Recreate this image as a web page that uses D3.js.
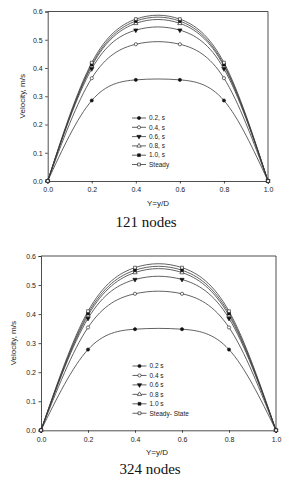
<!DOCTYPE html>
<html>
<head>
<meta charset="utf-8">
<script src="https://cdn.jsdelivr.net/npm/d3@7"></script>
<style>
  body { margin: 0; background: #fff; }
  svg text { font-family: "Liberation Sans", Arial, sans-serif; fill: #222; }
</style>
</head>
<body>
<div id="chart"></div>
<script>
// positions along the pipe (Y = y/D)
let yOverD = [0, 0.2, 0.4, 0.6, 0.8, 1.0];
let xTicks = [0, 0.2, 0.4, 0.6, 0.8, 1.0];
let yTicks = [0, 0.1, 0.2, 0.3, 0.4, 0.5, 0.6];

// 121 nodes
let labels121 = ["0.2, s", "0.4, s", "0.6, s", "0.8, s", "1.0, s", "Steady"];
let n121_t02 = [0, 0.285, 0.358, 0.358, 0.285, 0];
let n121_t04 = [0, 0.364, 0.484, 0.484, 0.364, 0];
let n121_t06 = [0, 0.397, 0.534, 0.534, 0.397, 0];
let n121_t08 = [0, 0.407, 0.558, 0.558, 0.407, 0];
let n121_t10 = [0, 0.412, 0.566, 0.566, 0.412, 0];
let n121_steady = [0, 0.419, 0.573, 0.573, 0.419, 0];

// 324 nodes
let labels324 = ["0.2 s", "0.4 s", "0.6 s", "0.8 s", "1.0 s", "Steady- State"];
let n324_t02 = [0, 0.278, 0.348, 0.348, 0.278, 0];
let n324_t04 = [0, 0.354, 0.470, 0.470, 0.354, 0];
let n324_t06 = [0, 0.385, 0.519, 0.519, 0.385, 0];
let n324_t08 = [0, 0.395, 0.543, 0.543, 0.395, 0];
let n324_t10 = [0, 0.402, 0.551, 0.551, 0.402, 0];
let n324_steady = [0, 0.410, 0.560, 0.560, 0.410, 0];

// marker per series: symbol type + filled or not
let markers = [
    {type: d3.symbolCircle, fill: true},
    {type: d3.symbolCircle, fill: false},
    {type: d3.symbolTriangle, fill: true, rot: 180},
    {type: d3.symbolTriangle, fill: false},
    {type: d3.symbolSquare, fill: true},
    {type: d3.symbolSquare, fill: false}
];

let svg = d3.select("#chart")
    .append("svg")
    .attr("width", 289)
    .attr("height", 480);

function drawPanel(cfg) {
    let g = svg.append("g");

    let x = d3.scaleLinear()
        .domain([0, 1])
        .range([cfg.left, cfg.right]);

    let y = d3.scaleLinear()
        .domain([0, 0.6])
        .range([cfg.bottom, cfg.top]);

    // frame (top + right)
    g.append("path")
        .attr("d", `M${cfg.left},${cfg.top}H${cfg.right}V${cfg.bottom}`)
        .attr("fill", "none")
        .attr("stroke", "#222")
        .attr("stroke-width", 0.8);

    // x axis
    let xAxis = g.append("g")
        .attr("transform", `translate(0,${cfg.bottom})`)
        .call(d3.axisBottom(x).tickValues(xTicks).tickFormat(d3.format(".1f")).tickSize(2.5).tickPadding(4));

    // y axis
    let yAxis = g.append("g")
        .attr("transform", `translate(${cfg.left},0)`)
        .call(d3.axisLeft(y).tickValues(yTicks).tickFormat(d3.format(".1f")).tickSize(2.5).tickPadding(2.5));

    [xAxis, yAxis].forEach(a => {
        a.select(".domain").attr("stroke", "#222").attr("stroke-width", 0.8);
        a.selectAll(".tick line").attr("stroke", "#222").attr("stroke-width", 0.8);
        a.selectAll(".tick text")
            .attr("font-size", "7px")
            .attr("font-family", "Liberation Sans, Arial, sans-serif")
            .attr("fill", "#333");
    });

    // axis titles
    g.append("text")
        .attr("transform", `translate(${cfg.yTitleX},${(cfg.top + cfg.bottom) / 2}) rotate(-90)`)
        .attr("text-anchor", "middle")
        .attr("font-size", "8px")
        .text("Velocity, m/s");

    g.append("text")
        .attr("x", cfg.xTitleX)
        .attr("y", cfg.xTitleY)
        .attr("text-anchor", "middle")
        .attr("font-size", "8px")
        .text("Y=y/D");

    // caption
    g.append("text")
        .attr("x", cfg.captionX)
        .attr("y", cfg.captionY)
        .attr("text-anchor", "middle")
        .attr("font-size", "15px")
        .style("font-family", "'Liberation Serif', 'Times New Roman', serif")
        .style("fill", "#111")
        .text(cfg.caption);

    let line = d3.line()
        .x((d, i) => x(yOverD[i]))
        .y(d => y(d))
        .curve(d3.curveNatural);

    // curves
    cfg.series.forEach((s, k) => {
        g.append("path")
            .datum(s)
            .attr("d", line)
            .attr("fill", "none")
            .attr("stroke", "#3a3a3a")
            .attr("stroke-width", 0.8);
    });

    // markers
    cfg.series.forEach((s, k) => {
        let m = markers[k];
        g.selectAll(null)
            .data(s)
            .enter()
            .append("path")
            .attr("d", d3.symbol().type(m.type).size(8))
            .attr("transform", (d, i) => `translate(${x(yOverD[i])},${y(d)}) rotate(${m.rot || 0})`)
            .attr("fill", m.fill ? "#111" : "#fff")
            .attr("stroke", "#111")
            .attr("stroke-width", 0.6);
    });

    // legend
    cfg.labels.forEach((lab, k) => {
        let m = markers[k];
        let ly = cfg.legendY + k * cfg.legendStep;
        g.append("line")
            .attr("x1", cfg.legendX)
            .attr("x2", cfg.legendX + 14)
            .attr("y1", ly)
            .attr("y2", ly)
            .attr("stroke", "#3a3a3a")
            .attr("stroke-width", 0.8);
        g.append("path")
            .attr("d", d3.symbol().type(m.type).size(8))
            .attr("transform", `translate(${cfg.legendX + 7},${ly}) rotate(${m.rot || 0})`)
            .attr("fill", m.fill ? "#111" : "#fff")
            .attr("stroke", "#111")
            .attr("stroke-width", 0.6);
        g.append("text")
            .attr("x", cfg.legendX + 17)
            .attr("y", ly)
            .attr("dy", "0.35em")
            .attr("font-size", "6.5px")
            .text(lab);
    });
}

drawPanel({
    left: 47.7, right: 268, top: 11.5, bottom: 181,
    yTitleX: 25, xTitleX: 158, xTitleY: 206,
    captionX: 146, captionY: 227, caption: "121 nodes",
    legendX: 132, legendY: 118, legendStep: 9.3,
    labels: labels121,
    series: [n121_t02, n121_t04, n121_t06, n121_t08, n121_t10, n121_steady]
});

drawPanel({
    left: 41, right: 276, top: 256, bottom: 430.3,
    yTitleX: 16, xTitleX: 157, xTitleY: 455,
    captionX: 150, captionY: 474, caption: "324 nodes",
    legendX: 132.5, legendY: 366, legendStep: 9.45,
    labels: labels324,
    series: [n324_t02, n324_t04, n324_t06, n324_t08, n324_t10, n324_steady]
});
</script>
</body>
</html>
